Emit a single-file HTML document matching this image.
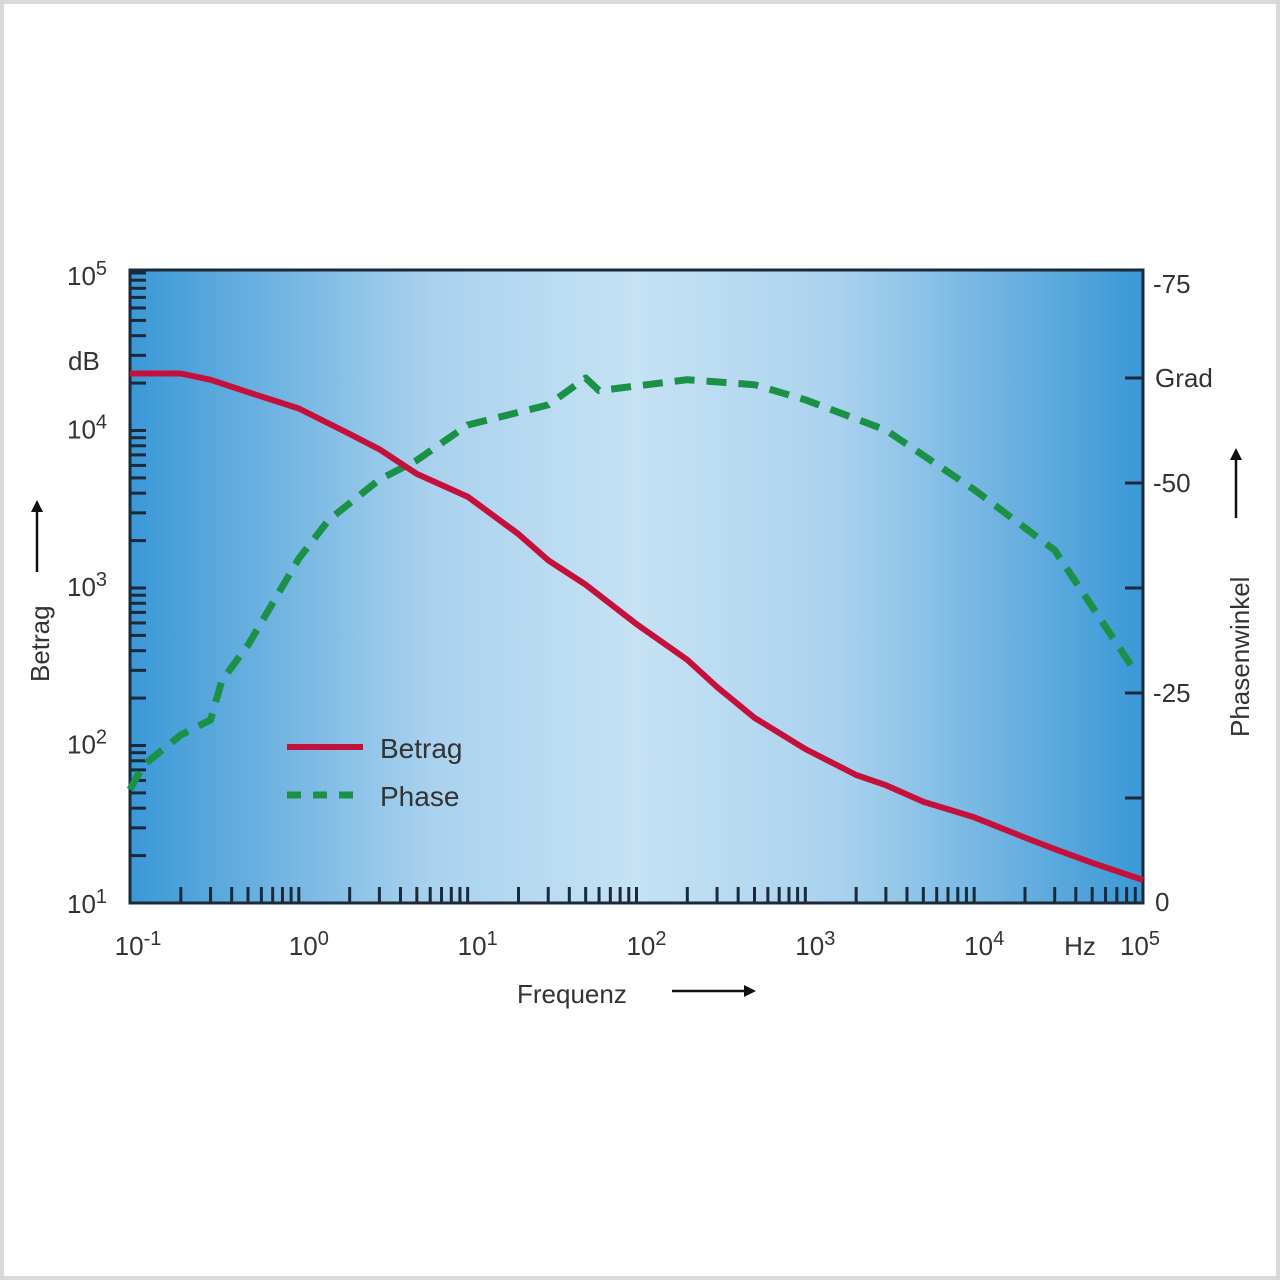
<!DOCTYPE html>
<html><head><meta charset="utf-8"><style>
html,body{margin:0;padding:0;background:#fff}
#wrap{position:relative;width:1280px;height:1280px;background:#fff;overflow:hidden}
svg{position:absolute;left:0;top:0}
text{font-family:"Liberation Sans",sans-serif;fill:#333}
</style></head><body>
<div id="wrap">
<svg id="chart" width="1280" height="1280" viewBox="0 0 1280 1280">
<defs>
<linearGradient id="bg" x1="0" x2="1" y1="0" y2="0">
<stop offset="0" stop-color="#3a98d6"/>
<stop offset="0.3" stop-color="#aad2ee"/>
<stop offset="0.5" stop-color="#c6e2f4"/>
<stop offset="0.7" stop-color="#aad2ee"/>
<stop offset="1" stop-color="#3a98d6"/>
</linearGradient>
<marker id="arr" markerWidth="12" markerHeight="12" refX="6" refY="6" orient="auto" markerUnits="userSpaceOnUse"><path d="M0,0 L12,6 L0,12 z" fill="#111"/></marker>
</defs>
<rect x="2" y="2" width="1276" height="1276" fill="none" stroke="#d9d9d9" stroke-width="4"/>
</svg>
</div>
<script>
const freqs = [0.1,0.2,0.3,0.5,1,2,3,5,10,20,30,50,100,200,300,500,1000,2000,3000,5000,10000,20000,30000,50000,100000];
const betrag = [23000,23000,21000,17500,13800,9500,7600,5300,3800,2200,1500,1050,590,350,235,150,95,65,56,44,35,26,22,18,14];
const phaseFreqs = [0.1,0.12,0.2,0.3,0.35,0.5,1,1.5,3,5,10,30,50,60,200,500,1000,3000,10000,30000,85000];
const phase = [13.5,16.4,20,21.8,26.5,30.7,41,45.6,50.4,52.7,56.9,59.3,62.5,61,62.3,61.7,59.9,56.3,49.2,42,28.3];
const xTickLabels = ["-1","0","1","2","3","4"];
const yTickLabels = ["1","2","3","4","5"];
const phaseTicks = ["0","-25","-50","-75"];

const L=130,R=1143,T=273,B=903;
const x = f => L + (Math.log10(f)+1)/6*(R-L);
const yL = v => B - (Math.log10(v)-1)/4*(B-T);
const yR = p => B - p/75*(B-T);
const NS="http://www.w3.org/2000/svg";
const svg=document.getElementById('chart');
function el(tag,attrs,parent){const e=document.createElementNS(NS,tag);for(const k in attrs)e.setAttribute(k,attrs[k]);(parent||svg).appendChild(e);return e;}

const bg=el('rect',{x:L,y:270,width:R-L,height:B-270,fill:'url(#bg)'});



const tg=el('g',{stroke:'#1a2a3a','stroke-width':3});


for(let d=-1;d<5;d++){for(let m=2;m<=10;m++){const xx=x(m*Math.pow(10,d));if(xx>R-2)continue;el('line',{x1:xx,x2:xx,y1:B,y2:B-16},tg);}}
for(let d=1;d<5;d++){for(let m=2;m<=10;m++){const yy=yL(m*Math.pow(10,d));el('line',{x1:L,x2:L+16,y1:yy,y2:yy},tg);}}
for(let i=1;i<6;i++){const yy=yR(i*12.5);el('line',{x1:R,x2:R-18,y1:yy,y2:yy},tg);}

const fr=el('path',{d:`M${L},${B} L${L},270 L${R},270 L${R},${B} Z`,fill:'none',stroke:'#1a2a3a','stroke-width':3});



xTickLabels.forEach((lab,i)=>{const t=el('text',{x:x(Math.pow(10,+lab))+(i===0?8:10),y:955,'font-size':26,'text-anchor':'middle'});t.innerHTML=`10<tspan dy="-10" font-size="20">${lab}</tspan>`;

});
const x5=el('text',{x:1140,y:955,'font-size':26,'text-anchor':'middle'});x5.innerHTML='10<tspan dy="-10" font-size="20">5</tspan>';


const hz=el('text',{x:1080,y:955,'font-size':26,'text-anchor':'middle'});hz.textContent='Hz';


yTickLabels.forEach(lab=>{const t=el('text',{x:67,y:yL(Math.pow(10,+lab))+(lab==='5'?12:lab==='1'?10:8),'font-size':26});t.innerHTML=`10<tspan dy="-10" font-size="20">${lab}</tspan>`;

});
const db=el('text',{x:68,y:370,'font-size':26});db.textContent='dB';


phaseTicks.forEach(lab=>{const v=-(+lab);const t=el('text',{x:lab==='0'?1155:1153,y:yR(v)+(v===75?20:v===0?8:9),'font-size':26});t.textContent=lab;

});
const gr=el('text',{x:1155,y:387,'font-size':26});gr.textContent='Grad';



const xt=el('text',{x:517,y:1003,'font-size':26});xt.textContent='Frequenz';


const xa=el('line',{x1:672,x2:750,y1:991,y2:991,stroke:'#111','stroke-width':2.5,'marker-end':'url(#arr)'});


const yt=el('text',{x:0,y:0,'font-size':26,transform:'translate(49,682) rotate(-90)'});yt.textContent='Betrag';


const ya=el('line',{x1:37,x2:37,y1:572,y2:506,stroke:'#111','stroke-width':2.5,'marker-end':'url(#arr)'});


const rt=el('text',{x:0,y:0,'font-size':26,transform:'translate(1249,737) rotate(-90)'});rt.textContent='Phasenwinkel';


const ra=el('line',{x1:1236,x2:1236,y1:518,y2:454,stroke:'#111','stroke-width':2.5,'marker-end':'url(#arr)'});



const pathFrom=(xs,ys,fy)=>xs.map((f,i)=>(i?'L':'M')+x(f).toFixed(1)+','+fy(ys[i]).toFixed(1)).join(' ');
const ph=el('path',{d:pathFrom(phaseFreqs,phase,yR),fill:'none',stroke:'#1a9147','stroke-width':7,'stroke-dasharray':'20 12','stroke-linejoin':'round'});


const be=el('path',{d:pathFrom(freqs,betrag,yL),fill:'none',stroke:'#c4103a','stroke-width':6,'stroke-linejoin':'round'});



const lg=el('g',{});


const l1=el('line',{x1:287,x2:363,y1:747,y2:747,stroke:'#c4103a','stroke-width':6},lg);


const t1=el('text',{x:380,y:758,'font-size':28},lg);t1.textContent='Betrag';


const l2=el('line',{x1:287,x2:363,y1:795,y2:795,stroke:'#1a9147','stroke-width':7,'stroke-dasharray':'14 12'},lg);


const t2=el('text',{x:380,y:806,'font-size':28},lg);t2.textContent='Phase';


</script>
</body></html>
